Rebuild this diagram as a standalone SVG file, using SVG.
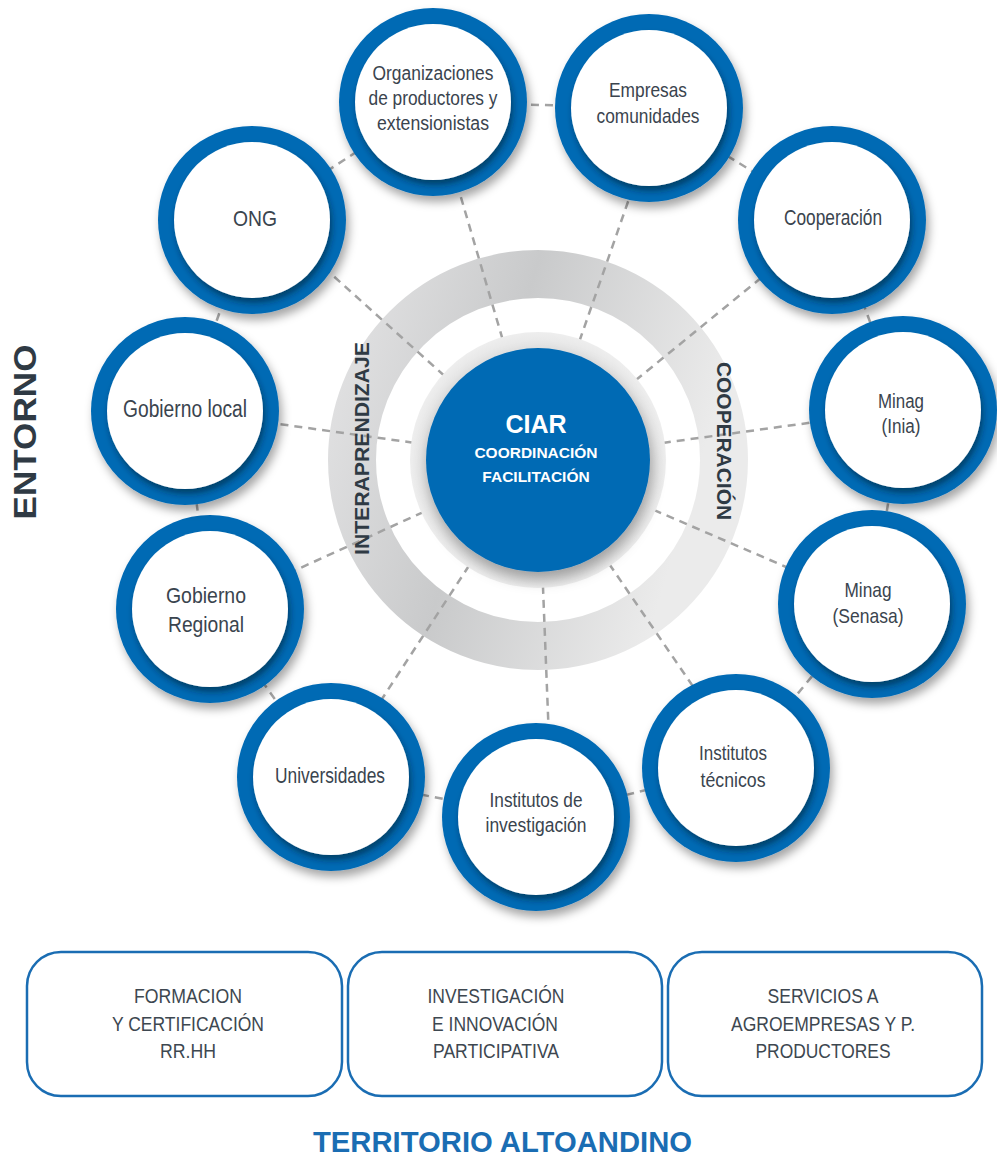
<svg xmlns="http://www.w3.org/2000/svg" width="997" height="1156" viewBox="0 0 997 1156">
<defs>
<style>
.dash{stroke:#a3a3a3;stroke-width:2.5;stroke-dasharray:8 6;fill:none}
.ringc{fill:#006ab4}
.inner{fill:#ffffff}
.nt{font-family:"Liberation Sans",Arial,sans-serif;fill:#3a444e;text-anchor:middle}
.bx{fill:#ffffff;stroke:#1a6db3;stroke-width:2.5}
.bt{font-family:"Liberation Sans",Arial,sans-serif;font-size:20px;fill:#3d4750;text-anchor:middle}
.vt{font-family:"Liberation Sans",Arial,sans-serif;font-weight:bold;fill:#2f3a44;text-anchor:middle}
.ct{font-family:"Liberation Sans",Arial,sans-serif;font-weight:bold;fill:#ffffff;text-anchor:middle}
</style>
<filter id="sh" x="-30%" y="-30%" width="160%" height="160%">
<feDropShadow dx="3" dy="6" stdDeviation="5" flood-color="#000" flood-opacity="0.35"/>
</filter>
<filter id="ish" x="-30%" y="-30%" width="160%" height="160%">
<feDropShadow dx="2" dy="5" stdDeviation="3" flood-color="#001a33" flood-opacity="0.55"/>
</filter>
<filter id="csh" x="-30%" y="-30%" width="160%" height="160%">
<feDropShadow dx="2" dy="8" stdDeviation="7" flood-color="#000" flood-opacity="0.3"/>
</filter>
<linearGradient id="ringg" x1="0" y1="0" x2="1" y2="0.3">
<stop offset="0" stop-color="#e2e2e3"/>
<stop offset="0.45" stop-color="#c9cacb"/>
<stop offset="1" stop-color="#ebebeb"/>
</linearGradient>
<radialGradient id="halog" cx="0.5" cy="0.5" r="0.5">
<stop offset="0.8" stop-color="#dedede"/>
<stop offset="1" stop-color="#eeeeee"/>
</radialGradient>
</defs>

<rect width="997" height="1156" fill="#ffffff"/>

<g id="gray-ring">
<circle cx="538" cy="460" r="186" fill="none" stroke="url(#ringg)" stroke-width="48"/>
</g>

<g id="connectors">
<line class="dash" x1="538" y1="460" x2="433" y2="102"/>
<line class="dash" x1="538" y1="460" x2="653" y2="130"/>
<line class="dash" x1="538" y1="460" x2="832" y2="220"/>
<line class="dash" x1="538" y1="460" x2="903" y2="410"/>
<line class="dash" x1="538" y1="460" x2="872" y2="604"/>
<line class="dash" x1="538" y1="460" x2="716" y2="720"/>
<line class="dash" x1="538" y1="460" x2="549" y2="740"/>
<line class="dash" x1="538" y1="460" x2="331" y2="777"/>
<line class="dash" x1="538" y1="460" x2="210" y2="609"/>
<line class="dash" x1="538" y1="460" x2="185" y2="411"/>
<line class="dash" x1="538" y1="460" x2="270" y2="219"/>
<polygon class="dash" points="433,102 649,108 832,220 903,410 872,604 736,768 536,817 331,777 210,609 185,411 252,220"/>
</g>

<g id="ciar">
<circle cx="538" cy="460" r="128" fill="url(#halog)"/>
<circle cx="538" cy="460" r="112" fill="#006ab4" filter="url(#csh)"/>
<text class="ct" x="536" y="433" font-size="25">CIAR</text>
<text class="ct" x="536" y="458" font-size="15.5">COORDINACIÓN</text>
<text class="ct" x="536" y="482" font-size="15.5">FACILITACIÓN</text>
</g>

<g id="node-organizaciones">
<circle class="ringc" cx="433" cy="102" r="94" filter="url(#sh)"/>
<circle class="inner" cx="433" cy="102" r="78" filter="url(#ish)"/>
<text class="nt" font-size="19.5"><tspan x="433" y="80" textLength="121" lengthAdjust="spacingAndGlyphs">Organizaciones</tspan><tspan x="433" y="105" textLength="129" lengthAdjust="spacingAndGlyphs">de productores y</tspan><tspan x="433" y="130" textLength="112" lengthAdjust="spacingAndGlyphs">extensionistas</tspan></text>
</g>

<g id="node-empresas">
<circle class="ringc" cx="649" cy="108" r="94" filter="url(#sh)"/>
<circle class="inner" cx="649" cy="108" r="78" filter="url(#ish)"/>
<text class="nt" font-size="21"><tspan x="648" y="97" textLength="78" lengthAdjust="spacingAndGlyphs">Empresas</tspan><tspan x="648" y="123" textLength="103" lengthAdjust="spacingAndGlyphs">comunidades</tspan></text>
</g>

<g id="node-cooperacion">
<circle class="ringc" cx="832" cy="220" r="94" filter="url(#sh)"/>
<circle class="inner" cx="832" cy="220" r="78" filter="url(#ish)"/>
<text class="nt" font-size="22" x="833" y="225" textLength="98" lengthAdjust="spacingAndGlyphs">Cooperación</text>
</g>

<g id="node-minag-inia">
<circle class="ringc" cx="903" cy="410" r="94" filter="url(#sh)"/>
<circle class="inner" cx="903" cy="410" r="78" filter="url(#ish)"/>
<text class="nt" font-size="20"><tspan x="901" y="408" textLength="46" lengthAdjust="spacingAndGlyphs">Minag</tspan><tspan x="901" y="433" textLength="39" lengthAdjust="spacingAndGlyphs">(Inia)</tspan></text>
</g>

<g id="node-minag-senasa">
<circle class="ringc" cx="872" cy="604" r="94" filter="url(#sh)"/>
<circle class="inner" cx="872" cy="604" r="78" filter="url(#ish)"/>
<text class="nt" font-size="21"><tspan x="868" y="597" textLength="47" lengthAdjust="spacingAndGlyphs">Minag</tspan><tspan x="868" y="623" textLength="71" lengthAdjust="spacingAndGlyphs">(Senasa)</tspan></text>
</g>

<g id="node-institutos-tecnicos">
<circle class="ringc" cx="736" cy="768" r="94" filter="url(#sh)"/>
<circle class="inner" cx="736" cy="768" r="78" filter="url(#ish)"/>
<text class="nt" font-size="20.5"><tspan x="733" y="760" textLength="68" lengthAdjust="spacingAndGlyphs">Institutos</tspan><tspan x="733" y="787" textLength="65" lengthAdjust="spacingAndGlyphs">técnicos</tspan></text>
</g>

<g id="node-institutos-investigacion">
<circle class="ringc" cx="536" cy="817" r="94" filter="url(#sh)"/>
<circle class="inner" cx="536" cy="817" r="78" filter="url(#ish)"/>
<text class="nt" font-size="20.5"><tspan x="536" y="807" textLength="93" lengthAdjust="spacingAndGlyphs">Institutos de</tspan><tspan x="536" y="832" textLength="101" lengthAdjust="spacingAndGlyphs">investigación</tspan></text>
</g>

<g id="node-universidades">
<circle class="ringc" cx="331" cy="777" r="94" filter="url(#sh)"/>
<circle class="inner" cx="331" cy="777" r="78" filter="url(#ish)"/>
<text class="nt" font-size="22" x="330" y="783" textLength="110" lengthAdjust="spacingAndGlyphs">Universidades</text>
</g>

<g id="node-gobierno-regional">
<circle class="ringc" cx="210" cy="609" r="94" filter="url(#sh)"/>
<circle class="inner" cx="210" cy="609" r="78" filter="url(#ish)"/>
<text class="nt" font-size="22"><tspan x="206" y="603" textLength="80" lengthAdjust="spacingAndGlyphs">Gobierno</tspan><tspan x="206" y="632" textLength="76" lengthAdjust="spacingAndGlyphs">Regional</tspan></text>
</g>

<g id="node-gobierno-local">
<circle class="ringc" cx="185" cy="411" r="94" filter="url(#sh)"/>
<circle class="inner" cx="185" cy="411" r="78" filter="url(#ish)"/>
<text class="nt" font-size="23" x="185" y="417" textLength="124" lengthAdjust="spacingAndGlyphs">Gobierno local</text>
</g>

<g id="node-ong">
<circle class="ringc" cx="252" cy="220" r="94" filter="url(#sh)"/>
<circle class="inner" cx="252" cy="220" r="78" filter="url(#ish)"/>
<text class="nt" font-size="22" x="255" y="226" textLength="44" lengthAdjust="spacingAndGlyphs">ONG</text>
</g>

<g id="ring-labels">
<text class="vt" font-size="21" transform="translate(369,448.5) rotate(-90)" x="0" y="0" textLength="213" lengthAdjust="spacingAndGlyphs">INTERAPRENDIZAJE</text>
<text class="vt" font-size="21" transform="translate(717,441) rotate(90)" x="0" y="0" textLength="158" lengthAdjust="spacingAndGlyphs">COOPERACIÓN</text>
</g>

<g id="entorno">
<text class="vt" font-size="31" transform="translate(36,432) rotate(-90)" x="0" y="0" textLength="175" lengthAdjust="spacingAndGlyphs">ENTORNO</text>
</g>

<g id="box-formacion">
<rect class="bx" x="27" y="952" width="315" height="144" rx="34"/>
<text class="bt"><tspan x="188" y="1003" textLength="108" lengthAdjust="spacingAndGlyphs">FORMACION</tspan><tspan x="188" y="1031" textLength="152" lengthAdjust="spacingAndGlyphs">Y CERTIFICACIÓN</tspan><tspan x="188" y="1058" textLength="56" lengthAdjust="spacingAndGlyphs">RR.HH</tspan></text>
</g>

<g id="box-investigacion">
<rect class="bx" x="348" y="952" width="314" height="144" rx="34"/>
<text class="bt"><tspan x="496" y="1003" textLength="137" lengthAdjust="spacingAndGlyphs">INVESTIGACIÓN</tspan><tspan x="495" y="1031" textLength="126" lengthAdjust="spacingAndGlyphs">E INNOVACIÓN</tspan><tspan x="496" y="1058" textLength="126" lengthAdjust="spacingAndGlyphs">PARTICIPATIVA</tspan></text>
</g>

<g id="box-servicios">
<rect class="bx" x="668" y="952" width="314" height="144" rx="34"/>
<text class="bt"><tspan x="823" y="1003" textLength="111" lengthAdjust="spacingAndGlyphs">SERVICIOS A</tspan><tspan x="823" y="1031" textLength="184" lengthAdjust="spacingAndGlyphs">AGROEMPRESAS Y P.</tspan><tspan x="823" y="1058" textLength="135" lengthAdjust="spacingAndGlyphs">PRODUCTORES</tspan></text>
</g>

<g id="territorio">
<text font-family="'Liberation Sans',Arial,sans-serif" font-weight="bold" font-size="29" fill="#1a6db3" text-anchor="middle" x="502.5" y="1152" textLength="379" lengthAdjust="spacingAndGlyphs">TERRITORIO ALTOANDINO</text>
</g>
</svg>
